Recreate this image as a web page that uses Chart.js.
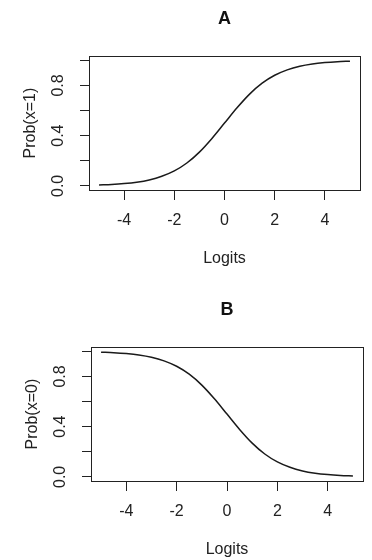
<!DOCTYPE html>
<html>
<head>
<meta charset="utf-8">
<script src="https://cdn.jsdelivr.net/npm/chart.js@4/dist/chart.umd.min.js"></script>
<style>
  html, body { margin: 0; padding: 0; background: #fff; overflow: hidden; }
  #wrap { position: relative; width: 372px; height: 560px; }
  canvas { position: absolute; }
  #chartA { left: 0; top: 0; }
  #chartB { left: 2px; top: 291px; }
</style>
</head>
<body>
<div id="wrap">
  <canvas id="chartA" width="372" height="269"></canvas>
  <canvas id="chartB" width="370" height="269"></canvas>
</div>
<script>
// values
const logits = [-5, -4.5, -4, -3.5, -3, -2.5, -2, -1.5, -1, -0.5, 0, 0.5, 1, 1.5, 2, 2.5, 3, 3.5, 4, 4.5, 5];
const probX1 = [0.007, 0.011, 0.018, 0.029, 0.047, 0.076, 0.119, 0.182, 0.269, 0.378, 0.5,
                0.622, 0.731, 0.818, 0.881, 0.924, 0.953, 0.971, 0.982, 0.989, 0.993];
const probX0 = [0.993, 0.989, 0.982, 0.971, 0.953, 0.924, 0.881, 0.818, 0.731, 0.622, 0.5,
                0.378, 0.269, 0.182, 0.119, 0.076, 0.047, 0.029, 0.018, 0.011, 0.007];

const xTickValues = [-4, -2, 0, 2, 4];
const xTickLabels = ['-4', '-2', '0', '2', '4'];
const yTickValues = [0, 0.2, 0.4, 0.6, 0.8, 1.0];
const yTickLabels = ['0.0', '', '0.4', '', '0.8', ''];

Chart.defaults.font.family = "'Liberation Sans', Arial, sans-serif";
Chart.defaults.color = '#222';

const ink = '#222';

// box around the plot region, like R's box()
const boxPlugin = {
    id: 'box',
    afterDatasetsDraw(chart) {
        const a = chart.chartArea;
        const ctx = chart.ctx;
        ctx.save();
        ctx.strokeStyle = ink;
        ctx.lineWidth = 1;
        const l = Math.round(a.left) + 0.5, t = Math.round(a.top) + 0.5;
        const r = Math.round(a.right) + 0.5, b = Math.round(a.bottom) + 0.5;
        ctx.strokeRect(l, t, r - l, b - t);
        ctx.restore();
    }
};

function makePanel(id, letter, yLabel, values, rightPad) {
    const ctx = document.getElementById(id).getContext('2d');
    return new Chart(ctx, {
        type: 'line',
        data: {
            datasets: [{
                data: logits.map((x, i) => ({ x: x, y: values[i] })),
                borderColor: '#1a1a1a',
                borderWidth: 1.5,
                pointRadius: 0,
                cubicInterpolationMode: 'monotone',
                fill: false
            }]
        },
        options: {
            responsive: false,
            animation: false,
            devicePixelRatio: 1,
            layout: { padding: { top: 0, right: rightPad, bottom: 0, left: 0 } },
            plugins: {
                legend: { display: false },
                tooltip: { enabled: false },
                title: {
                    display: true,
                    text: letter,
                    fullSize: false,
                    color: '#111',
                    font: { size: 18, weight: 'bold' },
                    padding: { top: 8, bottom: 26.6 }
                }
            },
            scales: {
                x: {
                    type: 'linear',
                    min: -5.4,
                    max: 5.4,
                    afterBuildTicks: s => { s.ticks = xTickValues.map(v => ({ value: v })); },
                    afterFit: s => { s.height = 79; },
                    grid: { display: true, drawOnChartArea: false, drawTicks: true, tickLength: 10, color: ink, lineWidth: 1 },
                    border: { display: true, color: ink, width: 1 },
                    ticks: {
                        autoSkip: false,
                        maxRotation: 0,
                        padding: 11,
                        color: ink,
                        font: { size: 16 },
                        callback: (v, i) => xTickLabels[i]
                    },
                    title: {
                        display: true,
                        text: 'Logits',
                        color: ink,
                        font: { size: 16 },
                        padding: { top: 4, bottom: 1 }
                    }
                },
                y: {
                    type: 'linear',
                    min: -0.033,
                    max: 1.033,
                    afterBuildTicks: s => { s.ticks = yTickValues.map(v => ({ value: v })); },
                    afterFit: s => { s.width = 89; },
                    grid: { display: true, drawOnChartArea: false, drawTicks: true, tickLength: 9, color: ink, lineWidth: 1 },
                    border: { display: true, color: ink, width: 1 },
                    ticks: {
                        autoSkip: false,
                        minRotation: 90,
                        maxRotation: 90,
                        crossAlign: 'center',
                        padding: 10.5,
                        color: ink,
                        font: { size: 16 },
                        callback: (v, i) => yTickLabels[i]
                    },
                    title: {
                        display: true,
                        text: yLabel,
                        color: ink,
                        font: { size: 16 },
                        padding: { top: 20.5, bottom: 0 }
                    }
                }
            }
        },
        plugins: [boxPlugin]
    });
}

makePanel('chartA', 'A', 'Prob(x=1)', probX1, 12);
makePanel('chartB', 'B', 'Prob(x=0)', probX0, 9);
</script>
</body>
</html>
